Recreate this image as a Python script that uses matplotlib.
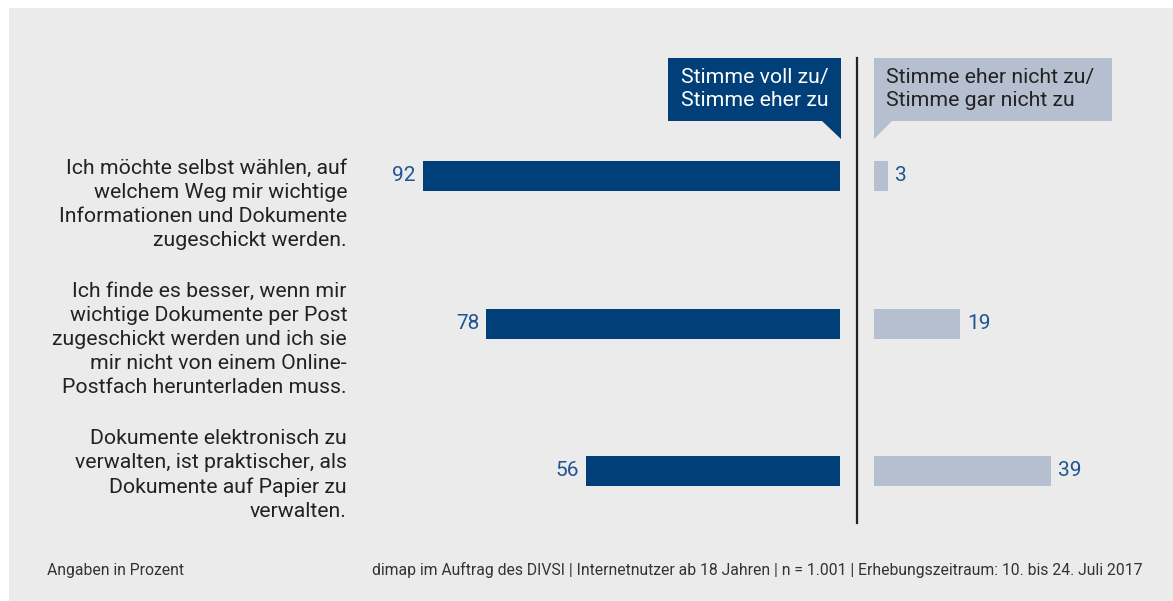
import matplotlib
matplotlib.use('Agg')
import matplotlib.pyplot as plt
from matplotlib.patches import Rectangle, Polygon
from matplotlib.lines import Line2D

#---------------------- DATA
statements = ["Ich möchte selbst wählen, auf\nwelchem Weg mir wichtige\nInformationen und Dokumente\nzugeschickt werden.",
              "Ich finde es besser, wenn mir\nwichtige Dokumente per Post\nzugeschickt werden und ich sie\nmir nicht von einem Online-\nPostfach herunterladen muss.",
              "Dokumente elektronisch zu\nverwalten, ist praktischer, als\nDokumente auf Papier zu\nverwalten."]
agree    = [92, 78, 56]
disagree = [3, 19, 39]
label_agree    = "Stimme voll zu/\nStimme eher zu"
label_disagree = "Stimme eher nicht zu/\nStimme gar nicht zu"
note_left  = "Angaben in Prozent"
note_right = "dimap im Auftrag des DIVSI | Internetnutzer ab 18 Jahren | n = 1.001 | Erhebungszeitraum: 10. bis 24. Juli 2017"

#---------------------- STYLE
W, H = 1173, 601
dark  = '#003f78'
light = '#b5bfcf'
numc  = '#1f5591'
txtc  = '#222222'
bg    = '#ebebeb'
plt.rcParams['font.family'] = ['Roboto', 'DejaVu Sans']

def fx(x): return x / W
def fy(y): return 1 - y / H

fig = plt.figure(figsize=(W/100, H/100), dpi=100, facecolor='white')
fig.patches.append(Rectangle((fx(9), 0), 1 - fx(9), fy(8), transform=fig.transFigure,
                             facecolor=bg, edgecolor='none', zorder=-5))

scale = 4.535          # px per percent
top, bot = 100, 545    # axes span in px
step = 147.5
y0 = 176
ylim = ((bot - y0) / step, -(y0 - top) / step)
pos = list(range(len(agree)))

# left axes: zero at x=840
lx0, lx1 = 400, 840
ax_l = fig.add_axes([fx(lx0), fy(bot), fx(lx1 - lx0), (bot - top) / H])
ax_l.barh(pos, agree, height=30/step, color=dark)
ax_l.set_xlim((lx1 - lx0) / scale, 0)
ax_l.set_ylim(*ylim)
for p, v in zip(pos, agree):
    ax_l.text(v + 1.6, p, str(v), ha='right', va='center', fontsize=15, color=numc)

# right axes: zero at x=874
rx0, rx1 = 874, 1166
ax_r = fig.add_axes([fx(rx0), fy(bot), fx(rx1 - rx0), (bot - top) / H])
ax_r.barh(pos, disagree, height=30/step, color=light)
ax_r.set_xlim(0, (rx1 - rx0) / scale)
ax_r.set_ylim(*ylim)
for p, v in zip(pos, disagree):
    ax_r.text(v + 1.6, p, str(v), ha='left', va='center', fontsize=15, color=numc)

for ax in (ax_l, ax_r):
    ax.axis('off')
    ax.patch.set_alpha(0)

# statements
text_tops = [159, 282, 429]
for s, t in zip(statements, text_tops):
    fig.text(fx(347), fy(t), s, ha='right', va='top', fontsize=15.3, color=txtc, linespacing=1.33)

# divider
fig.lines.append(Line2D([fx(857), fx(857)], [fy(58), fy(523)], transform=fig.transFigure,
                        color='#222222', linewidth=1.6))

# callout boxes
fig.patches.append(Polygon([(fx(668), fy(58)), (fx(841), fy(58)), (fx(841), fy(139)),
                            (fx(822), fy(121)), (fx(668), fy(121))],
                           closed=True, transform=fig.transFigure, facecolor=dark, edgecolor='none'))
fig.patches.append(Polygon([(fx(874), fy(58)), (fx(1112), fy(58)), (fx(1112), fy(121)),
                            (fx(892), fy(121)), (fx(874), fy(139))],
                           closed=True, transform=fig.transFigure, facecolor=light, edgecolor='none'))
fig.text(fx(829), fy(89), label_agree, ha='right', va='center', fontsize=15.3, color='white', linespacing=1.25)
fig.text(fx(886), fy(89), label_disagree, ha='left', va='center', fontsize=15.3, color=txtc, linespacing=1.25)

# footer
fig.text(fx(47), fy(570), note_left, ha='left', va='center', fontsize=11.3, color='#333333')
fig.text(fx(1143), fy(570), note_right, ha='right', va='center', fontsize=11.3, color='#333333')

fig.savefig('out.png', dpi=100, facecolor='white')
